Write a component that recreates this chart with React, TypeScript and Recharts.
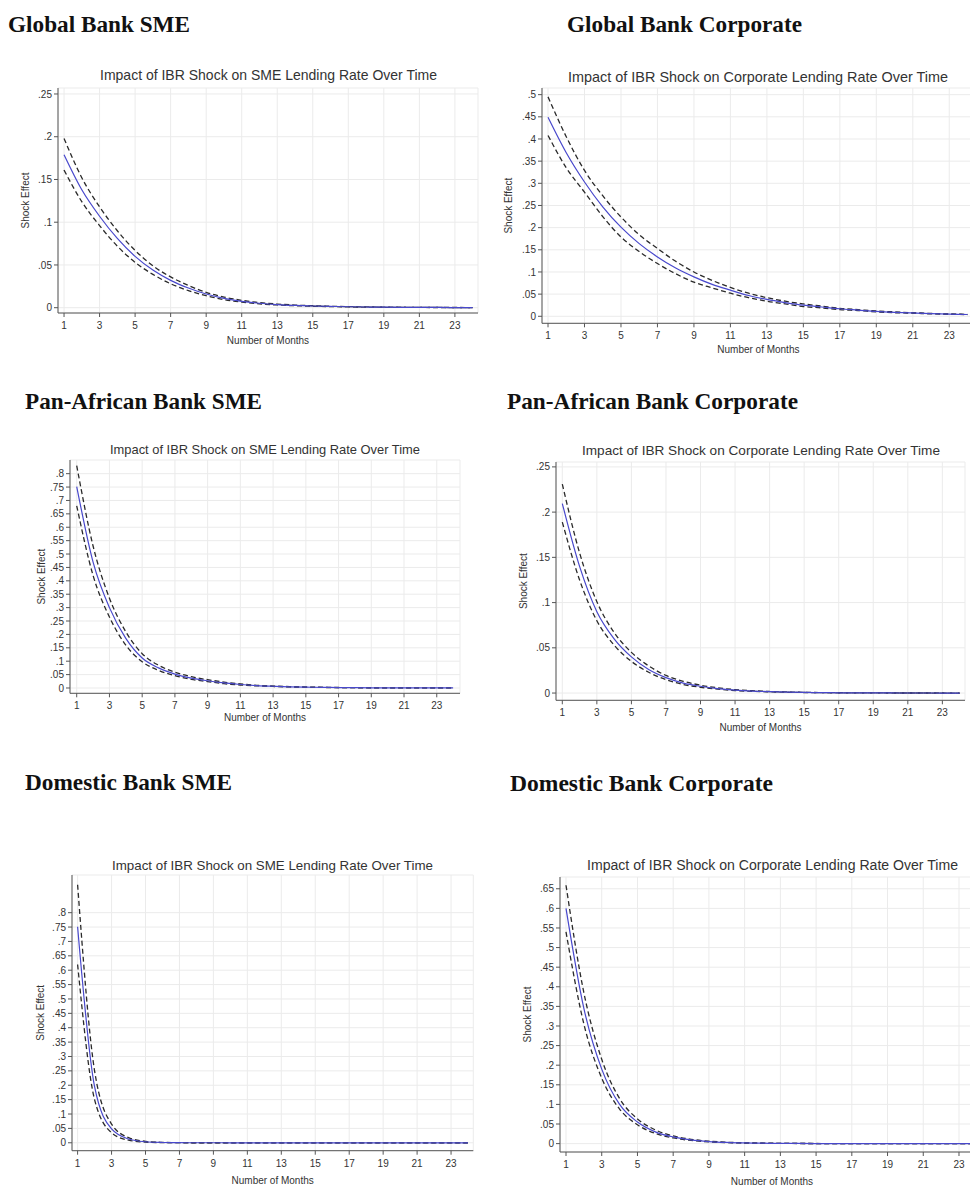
import { LineChart, Line, XAxis, YAxis, CartesianGrid } from "recharts";

// months after the shock
const months = [1, 2, 3, 4, 5, 6, 7, 8, 9, 10, 11, 12, 13, 14, 15, 16, 17, 18, 19, 20, 21, 22, 23, 24];
const monthTicks = [1, 3, 5, 7, 9, 11, 13, 15, 17, 19, 21, 23];

// y tick sets (Stata style, step .05)
const ticksTo25 = [0, 0.05, 0.1, 0.15, 0.2, 0.25];
const ticksTo50 = [0, 0.05, 0.1, 0.15, 0.2, 0.25, 0.3, 0.35, 0.4, 0.45, 0.5];
const ticksTo65 = [0, 0.05, 0.1, 0.15, 0.2, 0.25, 0.3, 0.35, 0.4, 0.45, 0.5, 0.55, 0.6, 0.65];
const ticksTo80 = [0, 0.05, 0.1, 0.15, 0.2, 0.25, 0.3, 0.35, 0.4, 0.45, 0.5, 0.55, 0.6, 0.65, 0.7, 0.75, 0.8];

// Global bank, SME
const globalSmeIrf = [0.179, 0.138, 0.107, 0.081, 0.06, 0.044, 0.032, 0.023, 0.016, 0.011, 0.0075, 0.0052, 0.0037, 0.0027, 0.002, 0.0015, 0.0011, 0.0008, 0.0006, 0.00045, 0.00035, 0.00027, 0.0002, 0.00015];
const globalSmeUpper = [0.198, 0.152, 0.118, 0.09, 0.067, 0.049, 0.036, 0.026, 0.018, 0.0125, 0.0086, 0.006, 0.0043, 0.0031, 0.0023, 0.0017, 0.0013, 0.00095, 0.0007, 0.00053, 0.0004, 0.0003, 0.00023, 0.00017];
const globalSmeLower = [0.161, 0.124, 0.096, 0.072, 0.053, 0.039, 0.028, 0.02, 0.014, 0.0095, 0.0065, 0.0045, 0.0032, 0.0023, 0.0017, 0.0013, 0.0009, 0.00068, 0.0005, 0.00038, 0.0003, 0.00023, 0.00017, 0.00013];

// Global bank, corporate
const globalCorpIrf = [0.449, 0.369, 0.303, 0.247, 0.201, 0.164, 0.134, 0.109, 0.089, 0.072, 0.059, 0.047, 0.038, 0.031, 0.025, 0.021, 0.017, 0.014, 0.011, 0.009, 0.0075, 0.006, 0.005, 0.004];
const globalCorpUpper = [0.495, 0.405, 0.329, 0.272, 0.224, 0.184, 0.153, 0.124, 0.1, 0.081, 0.065, 0.052, 0.042, 0.034, 0.028, 0.023, 0.018, 0.015, 0.012, 0.01, 0.008, 0.0065, 0.0053, 0.0043];
const globalCorpLower = [0.408, 0.335, 0.28, 0.225, 0.179, 0.146, 0.119, 0.096, 0.077, 0.064, 0.052, 0.042, 0.034, 0.028, 0.022, 0.019, 0.015, 0.013, 0.01, 0.008, 0.007, 0.0055, 0.0046, 0.0037];

// Pan-African bank, SME
const panSmeIrf = [0.752, 0.47, 0.3, 0.185, 0.112, 0.075, 0.052, 0.037, 0.027, 0.019, 0.013, 0.009, 0.0065, 0.0045, 0.0032, 0.0023, 0.0016, 0.0012, 0.0008, 0.0006, 0.0004, 0.0003, 0.0002, 0.00015];
const panSmeUpper = [0.83, 0.53, 0.335, 0.21, 0.128, 0.085, 0.059, 0.042, 0.031, 0.022, 0.015, 0.01, 0.0073, 0.0051, 0.0036, 0.0026, 0.0018, 0.0013, 0.0009, 0.00068, 0.00045, 0.00034, 0.00023, 0.00017];
const panSmeLower = [0.68, 0.42, 0.265, 0.16, 0.098, 0.066, 0.046, 0.032, 0.024, 0.016, 0.011, 0.008, 0.0057, 0.0039, 0.0028, 0.002, 0.0014, 0.001, 0.0007, 0.0005, 0.00035, 0.00026, 0.00017, 0.00013];

// Pan-African bank, corporate
const panCorpIrf = [0.2095, 0.14, 0.09, 0.06, 0.04, 0.026, 0.017, 0.011, 0.0075, 0.005, 0.0033, 0.0022, 0.0015, 0.001, 0.0007, 0.00045, 0.0003, 0.0002, 0.00014, 0.0001, 0.00007, 0.00005, 0.00003, 0.00002];
const panCorpUpper = [0.231, 0.155, 0.101, 0.067, 0.045, 0.03, 0.0195, 0.013, 0.0087, 0.0058, 0.0038, 0.0026, 0.0017, 0.0012, 0.0008, 0.00052, 0.00035, 0.00023, 0.00016, 0.00011, 0.00008, 0.00006, 0.00004, 0.00003];
const panCorpLower = [0.189, 0.125, 0.08, 0.053, 0.035, 0.023, 0.0148, 0.0095, 0.0064, 0.0043, 0.0028, 0.0019, 0.0013, 0.0009, 0.0006, 0.0004, 0.00026, 0.00017, 0.00012, 0.00008, 0.00006, 0.00004, 0.00003, 0.00002];

// Domestic bank, SME
const domSmeIrf = [0.751, 0.195, 0.048, 0.013, 0.0035, 0.001, 0.0003, 0.0001, 0.00003, 0.00001, 0, 0, 0, 0, 0, 0, 0, 0, 0, 0, 0, 0, 0, 0];
const domSmeUpper = [0.897, 0.25, 0.065, 0.018, 0.005, 0.0015, 0.0004, 0.00012, 0.00004, 0.00001, 0, 0, 0, 0, 0, 0, 0, 0, 0, 0, 0, 0, 0, 0];
const domSmeLower = [0.62, 0.15, 0.035, 0.009, 0.0024, 0.0007, 0.0002, 0.00006, 0.00002, 0.000005, 0, 0, 0, 0, 0, 0, 0, 0, 0, 0, 0, 0, 0, 0];

// Domestic bank, corporate
const domCorpIrf = [0.6, 0.345, 0.19, 0.1, 0.055, 0.03, 0.017, 0.0095, 0.0053, 0.003, 0.0017, 0.001, 0.0006, 0.00035, 0.0002, 0.00012, 0.00008, 0.00005, 0.00003, 0.00002, 0.00001, 0.00001, 0, 0];
const domCorpUpper = [0.659, 0.385, 0.215, 0.115, 0.063, 0.035, 0.0195, 0.011, 0.0062, 0.0035, 0.002, 0.0012, 0.0007, 0.0004, 0.00024, 0.00014, 0.00009, 0.00006, 0.00004, 0.00002, 0.00001, 0.00001, 0, 0];
const domCorpLower = [0.54, 0.305, 0.167, 0.088, 0.048, 0.026, 0.0145, 0.008, 0.0045, 0.0026, 0.0015, 0.0009, 0.0005, 0.0003, 0.00017, 0.0001, 0.00007, 0.00004, 0.00003, 0.00002, 0.00001, 0, 0, 0];

const smeTitle = "Impact of IBR Shock on SME Lending Rate Over Time";
const corpTitle = "Impact of IBR Shock on Corporate Lending Rate Over Time";

type Row = { month: number; irf: number; upper: number; lower: number };

type Panel = {
  heading: string;
  headX: number;
  headY: number;
  headW: number;
  title: string;
  titleX: number;
  titleY: number;
  titleW: number;
  titleSize: number;
  axisX: number;
  plotTop: number;
  plotBottom: number;
  plotRight: number;
  xDomain: [number, number];
  yDomain: [number, number];
  yTicks: number[];
  yLabelOffset: number;
  xLabelOffset: number;
  data: Row[];
};

function rows(irf: number[], upper: number[], lower: number[]): Row[] {
  return months.map((m, i) => ({ month: m, irf: irf[i], upper: upper[i], lower: lower[i] }));
}

const panels: Panel[] = [
  {
    heading: "Global Bank SME", headX: 8, headY: 31.7, headW: 182,
    title: smeTitle, titleX: 100, titleY: 80, titleW: 337, titleSize: 13.9,
    axisX: 58, plotTop: 88, plotBottom: 313, plotRight: 478,
    xDomain: [0.66, 24.3], yDomain: [-0.0062, 0.257], yTicks: ticksTo25,
    yLabelOffset: 12, xLabelOffset: 3.5,
    data: rows(globalSmeIrf, globalSmeUpper, globalSmeLower),
  },
  {
    heading: "Global Bank Corporate", headX: 567, headY: 31.7, headW: 235,
    title: corpTitle, titleX: 568, titleY: 81.7, titleW: 380, titleSize: 14.3,
    axisX: 541.7, plotTop: 88, plotBottom: 323.3, plotRight: 974.5,
    xDomain: [0.67, 24.4], yDomain: [-0.0158, 0.515], yTicks: ticksTo50,
    yLabelOffset: 11.6, xLabelOffset: 3.8,
    data: rows(globalCorpIrf, globalCorpUpper, globalCorpLower),
  },
  {
    heading: "Pan-African Bank SME", headX: 25, headY: 409.3, headW: 237,
    title: smeTitle, titleX: 110, titleY: 454, titleW: 310, titleSize: 12.8,
    axisX: 70, plotTop: 460, plotBottom: 693.3, plotRight: 460,
    xDomain: [0.59, 24.42], yDomain: [-0.0198, 0.851], yTicks: ticksTo80,
    yLabelOffset: 16.7, xLabelOffset: 5.8,
    data: rows(panSmeIrf, panSmeUpper, panSmeLower),
  },
  {
    heading: "Pan-African Bank Corporate", headX: 507, headY: 409.3, headW: 291,
    title: corpTitle, titleX: 582, titleY: 455, titleW: 358, titleSize: 13.5,
    axisX: 556, plotTop: 461.7, plotBottom: 700, plotRight: 965,
    xDomain: [0.635, 24.31], yDomain: [-0.008, 0.2554], yTicks: ticksTo25,
    yLabelOffset: 12.3, xLabelOffset: 3.5,
    data: rows(panCorpIrf, panCorpUpper, panCorpLower),
  },
  {
    heading: "Domestic Bank SME", headX: 25, headY: 790, headW: 207,
    title: smeTitle, titleX: 112, titleY: 870, titleW: 321, titleSize: 13.2,
    axisX: 71.7, plotTop: 875, plotBottom: 1150.7, plotRight: 473,
    xDomain: [0.67, 24.31], yDomain: [-0.0275, 0.931], yTicks: ticksTo80,
    yLabelOffset: 13.3, xLabelOffset: 0.5,
    data: rows(domSmeIrf, domSmeUpper, domSmeLower),
  },
  {
    heading: "Domestic Bank Corporate", headX: 510, headY: 790.7, headW: 263,
    title: corpTitle, titleX: 587, titleY: 870, titleW: 371, titleSize: 14,
    axisX: 560, plotTop: 876.7, plotBottom: 1151.7, plotRight: 984,
    xDomain: [0.664, 24.4], yDomain: [-0.0214, 0.68], yTicks: ticksTo65,
    yLabelOffset: 12.7, xLabelOffset: 1.5,
    data: rows(domCorpIrf, domCorpUpper, domCorpLower),
  },
];

// Stata drops the leading zero: .25, .2, 0
const fmtTick = (v: number) => (v === 0 ? "0" : String(+v.toFixed(2)).replace(/^0/, ""));

const Y_AXIS_W = 45;
const X_AXIS_H = 34;
const M_TOP = 4;
const M_RIGHT = 4;

function IrfChart({ p }: { p: Panel }) {
  const left = p.axisX - Y_AXIS_W;
  const top = p.plotTop - M_TOP;
  const width = Y_AXIS_W + (p.plotRight - p.axisX) + M_RIGHT;
  const height = M_TOP + (p.plotBottom - p.plotTop) + X_AXIS_H;
  return (
    <div style={{ position: "absolute", left, top }}>
      <LineChart
        width={width}
        height={height}
        data={p.data}
        margin={{ top: M_TOP, right: M_RIGHT, bottom: 0, left: 0 }}
      >
        <CartesianGrid stroke="#ebebeb" />
        <XAxis
          type="number"
          dataKey="month"
          domain={p.xDomain}
          ticks={monthTicks}
          allowDataOverflow
          interval={0}
          height={X_AXIS_H}
          tickSize={4}
          tickMargin={5}
          stroke="#555"
          tick={{ fontSize: 10, fill: "#333" }}
          label={{
            value: "Number of Months",
            position: "insideBottom",
            offset: p.xLabelOffset,
            style: { fontSize: 10, fill: "#333" },
          }}
        />
        <YAxis
          type="number"
          domain={p.yDomain}
          ticks={p.yTicks}
          allowDataOverflow
          interval={0}
          width={Y_AXIS_W}
          tickSize={4}
          tickMargin={2}
          tickFormatter={fmtTick}
          stroke="#555"
          tick={{ fontSize: 10, fill: "#333" }}
          label={{
            value: "Shock Effect",
            angle: -90,
            position: "insideLeft",
            offset: p.yLabelOffset,
            style: { textAnchor: "middle", fontSize: 10, fill: "#333" },
          }}
        />
        {/* confidence band */}
        <Line dataKey="upper" type="monotone" stroke="#2a2a2a" strokeWidth={1.3} strokeDasharray="5 3" dot={false} isAnimationActive={false} />
        <Line dataKey="lower" type="monotone" stroke="#2a2a2a" strokeWidth={1.3} strokeDasharray="5 3" dot={false} isAnimationActive={false} />
        <Line dataKey="irf" type="monotone" stroke="#4848cc" strokeWidth={1.2} dot={false} isAnimationActive={false} />
      </LineChart>
    </div>
  );
}

export default function App() {
  return (
    <div
      style={{
        position: "absolute",
        left: 0,
        top: 0,
        width: 970,
        height: 1185,
        overflow: "hidden",
        background: "#fff",
        fontFamily: "'Liberation Sans', Arial, sans-serif",
      }}
    >
      {panels.map((p) => (
        <IrfChart key={p.heading} p={p} />
      ))}
      <svg width={970} height={1185} style={{ position: "absolute", left: 0, top: 0, pointerEvents: "none" }}>
        {panels.map((p) => (
          <g key={p.heading}>
            <text
              x={p.headX}
              y={p.headY}
              textLength={p.headW}
              lengthAdjust="spacingAndGlyphs"
              fontFamily="'Liberation Serif', 'Times New Roman', serif"
              fontWeight="bold"
              fontSize={23}
              fill="#111"
            >
              {p.heading}
            </text>
            <text
              x={p.titleX}
              y={p.titleY}
              textLength={p.titleW}
              lengthAdjust="spacingAndGlyphs"
              fontSize={p.titleSize}
              fill="#333"
            >
              {p.title}
            </text>
          </g>
        ))}
      </svg>
    </div>
  );
}
